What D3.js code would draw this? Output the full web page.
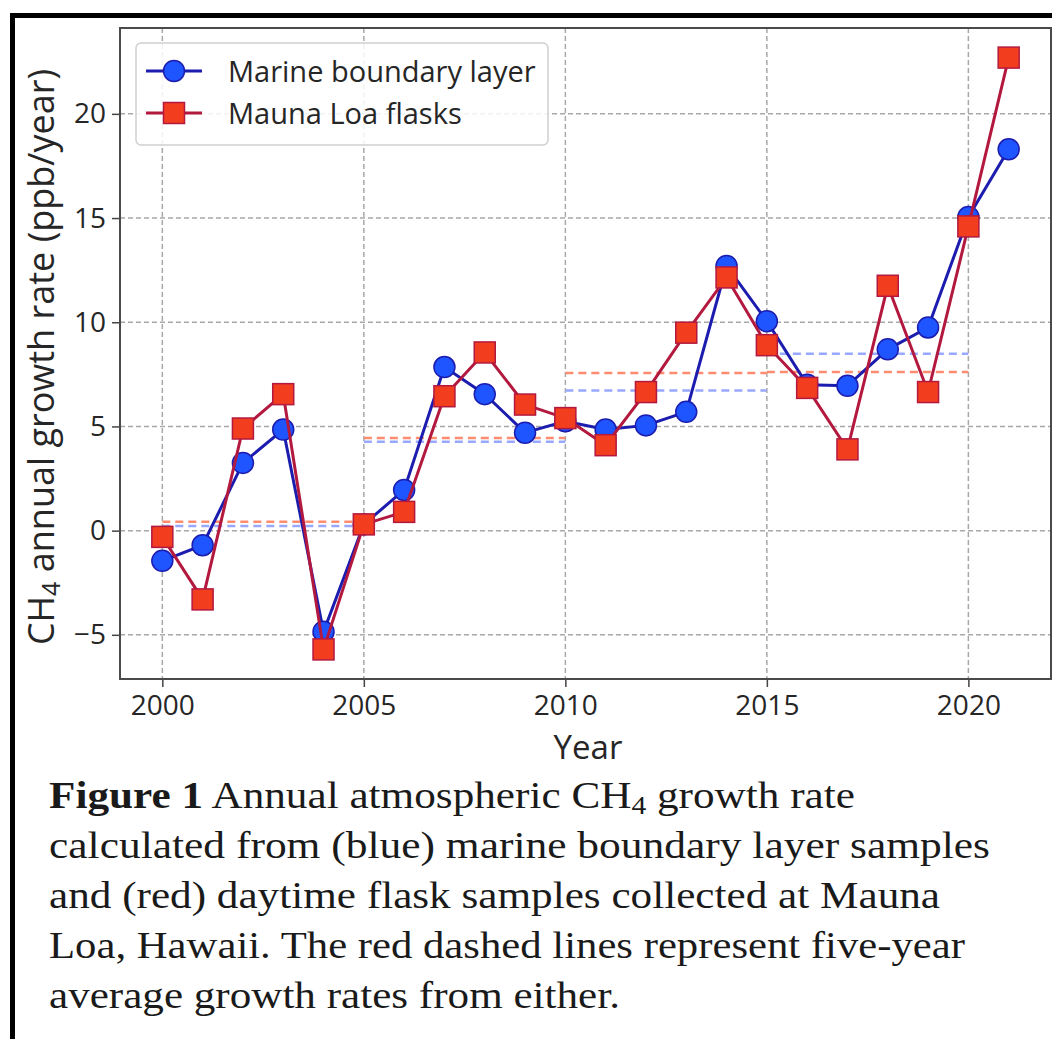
<!DOCTYPE html>
<html><head><meta charset="utf-8">
<script src="https://cdn.jsdelivr.net/npm/d3@7"></script>
<style>body{margin:0;background:#fff}svg{display:block}</style>
</head><body>
<svg id="c" width="1052" height="1039"></svg>
<script>
const years = [2000,2001,2002,2003,2004,2005,2006,2007,2008,2009,2010,2011,2012,2013,2014,2015,2016,2017,2018,2019,2020,2021];
const marineBoundaryLayer = [-1.45,-0.7,3.25,4.85,-4.85,0.3,1.95,7.85,6.55,4.7,5.25,4.85,5.05,5.7,12.7,10.05,7.0,6.95,8.7,9.75,15.05,18.3];
const maunaLoaFlasks = [-0.3,-3.3,4.9,6.55,-5.7,0.3,0.9,6.45,8.55,6.05,5.4,4.1,6.65,9.5,12.15,8.9,6.85,3.9,11.75,6.65,14.6,22.7];
const periodStart = [2000,2005,2010,2015];
const periodEnd = [2005,2010,2015,2020];
const marineAvg = [0.22,4.27,6.72,8.49];
const flaskAvg = [0.43,4.45,7.56,7.61];
const xTicks = [2000,2005,2010,2015,2020];
const yTicks = [-5,0,5,10,15,20];
const captionLines = [
  "calculated from (blue) marine boundary layer samples",
  "and (red) daytime flask samples collected at Mauna",
  "Loa, Hawaii. The red dashed lines represent five-year",
  "average growth rates from either."
];

const svg = d3.select("#c");
const x = d3.scaleLinear().domain([1998.95, 2022.05]).range([120, 1051]);
const y = d3.scaleLinear().domain([-7.12, 24.12]).range([679, 28]);
const sans = "'Open Sans', sans-serif";
const serif = "'Liberation Serif', 'Times New Roman', serif";

// outer frame
svg.append("path").attr("d","M12.5,1045 V15.5 H1060").attr("fill","none").attr("stroke","#000").attr("stroke-width",5);

const plot = svg.append("g");
// grid
plot.selectAll(".gx").data(xTicks).join("line")
  .attr("x1",d=>x(d)).attr("x2",d=>x(d)).attr("y1",y.range()[1]).attr("y2",y.range()[0])
  .attr("stroke","#a8a8a8").attr("stroke-width",1.5).attr("stroke-dasharray","5,3");
plot.selectAll(".gy").data(yTicks).join("line")
  .attr("y1",d=>y(d)).attr("y2",d=>y(d)).attr("x1",x.range()[0]).attr("x2",x.range()[1])
  .attr("stroke","#a8a8a8").attr("stroke-width",1.5).attr("stroke-dasharray","5,3");

// axes
const xAxis = d3.axisBottom(x).tickValues(xTicks).tickFormat(d3.format("d")).tickSize(8).tickPadding(8);
const yAxis = d3.axisLeft(y).tickValues(yTicks).tickFormat(d=>d<0?"\u2212"+Math.abs(d):d).tickSize(8).tickPadding(6);
const gx = svg.append("g").attr("transform",`translate(0,${y.range()[0]})`).call(xAxis);
const gy = svg.append("g").attr("transform",`translate(${x.range()[0]},0)`).call(yAxis);
[gx,gy].forEach(g=>{
  g.select(".domain").remove();
  g.selectAll(".tick line").attr("stroke","#444").attr("stroke-width",1.5);
  g.selectAll(".tick text").attr("font-family",sans).attr("font-size",28).attr("fill","#262626");
});
// spines
svg.append("rect").attr("x",x.range()[0]).attr("y",y.range()[1])
  .attr("width",x.range()[1]-x.range()[0]).attr("height",y.range()[0]-y.range()[1])
  .attr("fill","none").attr("stroke","#4a4a4a").attr("stroke-width",2);

// averages
const avgG = svg.append("g");
function avgLines(vals, col){
  avgG.selectAll(null).data(vals).join("line")
    .attr("x1",(d,i)=>x(periodStart[i])).attr("x2",(d,i)=>x(periodEnd[i]))
    .attr("y1",d=>y(d)).attr("y2",d=>y(d))
    .attr("stroke",col).attr("stroke-width",2.5).attr("stroke-dasharray","8,5");
}
avgLines(marineAvg,"#98a8ff");
avgLines(flaskAvg,"#ff8c70");

// series
const line = d3.line().x((d,i)=>x(years[i])).y(d=>y(d));
const blueG = svg.append("g");
blueG.append("path").attr("d",line(marineBoundaryLayer)).attr("fill","none").attr("stroke","#1c1caf").attr("stroke-width",3);
blueG.selectAll("circle").data(marineBoundaryLayer).join("circle")
  .attr("cx",(d,i)=>x(years[i])).attr("cy",d=>y(d)).attr("r",10.5)
  .attr("fill","#1f55ff").attr("stroke","#1c1caf").attr("stroke-width",1.5);
const redG = svg.append("g");
redG.append("path").attr("d",line(maunaLoaFlasks)).attr("fill","none").attr("stroke","#b3193f").attr("stroke-width",3);
redG.selectAll("rect").data(maunaLoaFlasks).join("rect")
  .attr("x",(d,i)=>x(years[i])-10.5).attr("y",d=>y(d)-10.5).attr("width",21).attr("height",21)
  .attr("fill","#f33d1f").attr("stroke","#b3193f").attr("stroke-width",1.5);

// legend
const lg = svg.append("g");
lg.append("rect").attr("x",136).attr("y",43).attr("width",412).attr("height",102).attr("rx",5)
  .attr("fill","#fff").attr("fill-opacity",0.85).attr("stroke","#d0d0d0").attr("stroke-width",1.5);
lg.append("line").attr("x1",146).attr("x2",202).attr("y1",71).attr("y2",71).attr("stroke","#1c1caf").attr("stroke-width",3);
lg.append("circle").attr("cx",174).attr("cy",71).attr("r",10.5).attr("fill","#1f55ff").attr("stroke","#1c1caf").attr("stroke-width",1.5);
lg.append("line").attr("x1",146).attr("x2",202).attr("y1",113).attr("y2",113).attr("stroke","#b3193f").attr("stroke-width",3);
lg.append("rect").attr("x",163.5).attr("y",102.5).attr("width",21).attr("height",21).attr("fill","#f33d1f").attr("stroke","#b3193f").attr("stroke-width",1.5);
lg.append("text").attr("x",228).attr("y",82).text("Marine boundary layer").attr("font-family",sans).attr("font-size",29).attr("fill","#262626");
lg.append("text").attr("x",228).attr("y",124).text("Mauna Loa flasks").attr("font-family",sans).attr("font-size",29).attr("fill","#262626");

// axis titles
svg.append("text").attr("x",588).attr("y",759).attr("text-anchor","middle")
  .attr("font-family",sans).attr("font-size",33).attr("fill","#262626").text("Year");
const yl = svg.append("text").attr("transform","translate(54,357) rotate(-90)").attr("text-anchor","middle")
  .attr("font-family",sans).attr("font-size",36).attr("fill","#262626");
yl.append("tspan").text("CH");
yl.append("tspan").attr("font-size",25).attr("dy",6).text("4");
yl.append("tspan").attr("dy",-6).text(" annual growth rate (ppb/year)");

// caption
const cap = svg.append("g").attr("font-family",serif).attr("font-size",38).attr("fill","#1a1a1a");
const t1 = cap.append("text").attr("x",49).attr("y",808).attr("textLength",806).attr("lengthAdjust","spacingAndGlyphs");
t1.append("tspan").attr("font-weight","bold").text("Figure 1");
t1.append("tspan").text(" Annual atmospheric CH");
t1.append("tspan").attr("font-size",26).attr("dy",6).text("4");
t1.append("tspan").attr("dy",-6).text(" growth rate");
const capW = [941, 891, 916, 571];
cap.selectAll(".cl").data(captionLines).join("text")
  .attr("x",49).attr("y",(d,i)=>858+i*50)
  .attr("textLength",(d,i)=>capW[i]).attr("lengthAdjust","spacingAndGlyphs")
  .text(d=>d);
</script>
</body></html>
